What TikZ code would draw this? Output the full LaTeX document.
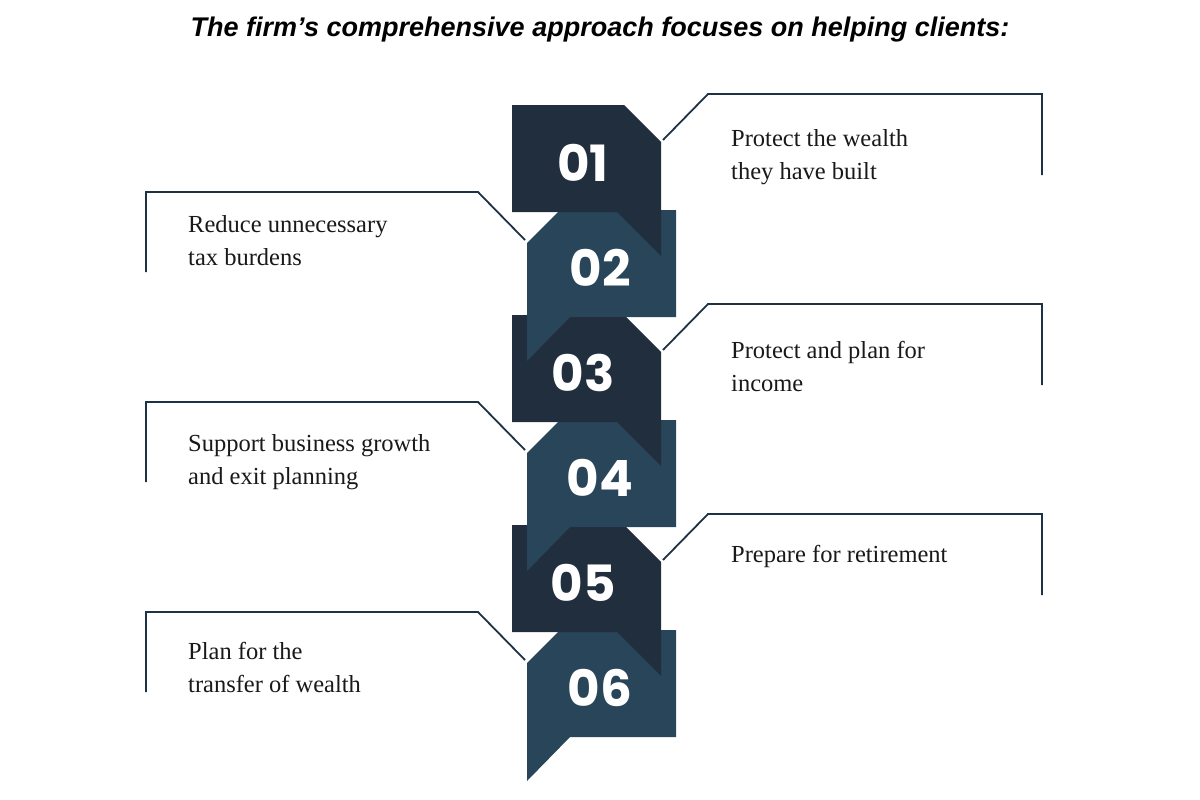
\documentclass[tikz,border=0pt]{standalone}
\usepackage{fontspec}
\setmainfont{Liberation Serif}
\newfontfamily\titlefont{Liberation Sans}
\newfontfamily\numfont{Poppins}
\definecolor{oddc}{HTML}{212E3D}
\definecolor{evenc}{HTML}{284559}
\definecolor{linec}{HTML}{1E3246}
\begin{document}
\begin{tikzpicture}[x=1pt,y=-1pt,
  num/.style={text=white,font=\numfont\bfseries\fontsize{50}{50}\selectfont,inner sep=0},
  lbl/.style={anchor=west,align=left,font=\fontsize{24.5}{33}\selectfont,inner sep=0,text=black!90},
  conn/.style={draw=linec,line width=1.8pt}]
\useasboundingbox (0,0) rectangle (1200,800);
\node[font=\titlefont\bfseries\itshape\fontsize{27}{30}\selectfont] (title) at (600,30) {The firm’s comprehensive approach focuses on helping clients:};
% blocks drawn from 06 up to 01
\foreach \k in {5,4,3,2,1,0}{
  \pgfmathsetmacro\T{105+105*\k}
  \pgfmathsetmacro\B{\T+107}
  \ifodd\k
    \fill[evenc] (527,\T+33) -- (560,\T) -- (676,\T) -- (676,\B) -- (570,\B) -- (527,\B+44) -- cycle;
    \coordinate (c\k) at (525,\T+30);
  \else
    \fill[oddc] (512,\T) -- (624,\T) -- (661,\T+37) -- (661,\B+44) -- (617,\B) -- (512,\B) -- cycle;
    \coordinate (c\k) at (663,\T+35);
  \fi
}
\node[num] (n1) at (583,163) {01};
\node[num] (n2) at (600,268) {02};
\node[num] (n3) at (583,373) {03};
\node[num] (n4) at (600,478) {04};
\node[num] (n5) at (583,583) {05};
\node[num] (n6) at (600,688) {06};
% connectors
\foreach \k in {0,2,4}{
  \pgfmathsetmacro\T{105+105*\k}
  \draw[conn] (c\k) -- (708,\T-11) -- (1042,\T-11) -- (1042,\T+70);
}
\foreach \k in {1,3,5}{
  \pgfmathsetmacro\T{105+105*\k}
  \draw[conn] (c\k) -- (478,\T-18) -- (146,\T-18) -- (146,\T+62);
}
\node[lbl] (t1) at (731,157) {Protect the wealth\\they have built};
\node[lbl] (t2) at (188,241) {Reduce unnecessary\\tax burdens};
\node[lbl] (t3) at (731,366) {Protect and plan for\\income};
\node[lbl] (t4) at (188,462) {Support business growth\\and exit planning};
\node[lbl] (t5) at (731,556) {Prepare for retirement};
\node[lbl] (t6) at (188,667) {Plan for the\\transfer of wealth};
\end{tikzpicture}
\end{document}
